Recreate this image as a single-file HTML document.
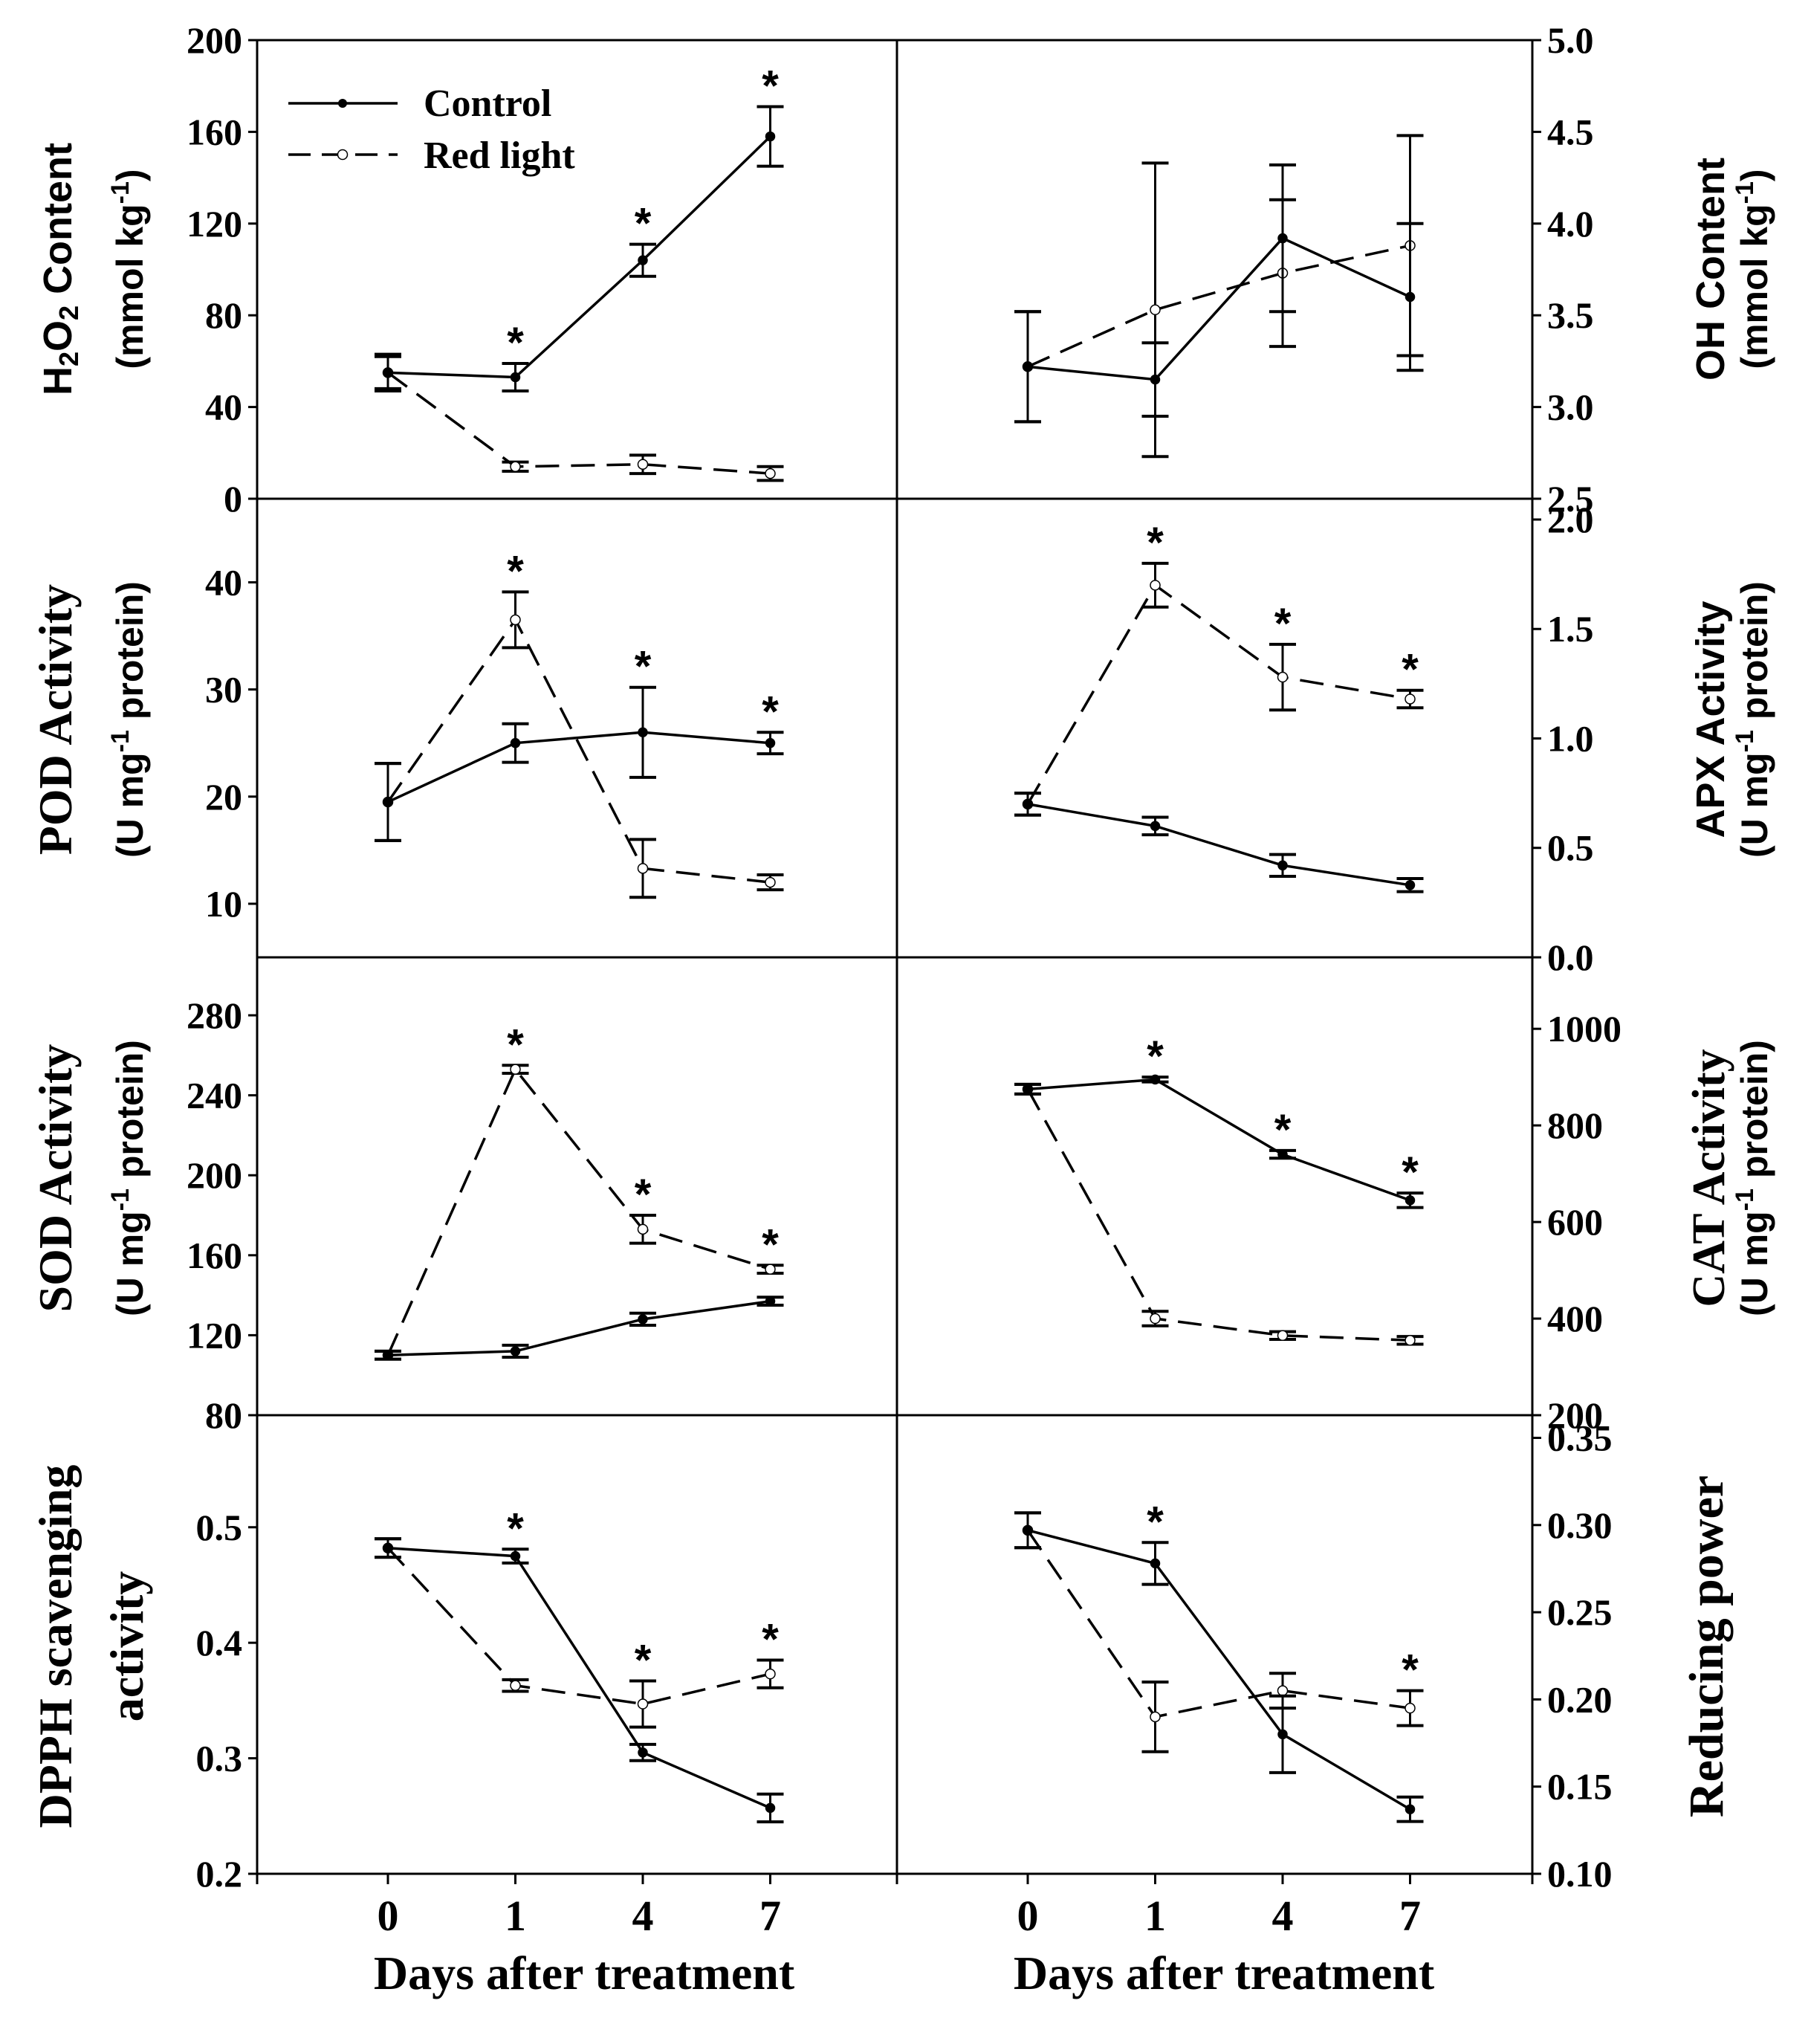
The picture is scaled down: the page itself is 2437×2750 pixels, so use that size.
<!DOCTYPE html>
<html><head><meta charset="utf-8"><style>
html,body{margin:0;padding:0;background:#fff;}
svg{display:block;}
</style></head><body>
<svg id="chart" width="2437" height="2750" viewBox="0 0 2437 2750" xmlns="http://www.w3.org/2000/svg"></svg>
<script>
// ---- data ----
const days = ["0","1","4","7"];
const h2o2Control = [55, 53, 104, 158];
const h2o2ControlErr = [7, 6, 7, 13];
const h2o2Red = [55, 14, 15, 11];
const h2o2RedErr = [8, 2, 4, 3];
const ohControl = [3.22, 3.15, 3.92, 3.6];
const ohControlErr = [0.3, 0.2, 0.4, 0.4];
const ohRed = [3.22, 3.53, 3.73, 3.88];
const ohRedErr = [0.3, 0.8, 0.4, 0.6];
const podControl = [19.5, 25, 26, 25];
const podControlErr = [3.6, 1.8, 4.2, 1];
const podRed = [19.5, 36.5, 13.3, 12];
const podRedErr = [3.6, 2.6, 2.7, 0.7];
const apxControl = [0.7, 0.6, 0.42, 0.33];
const apxControlErr = [0.05, 0.04, 0.05, 0.03];
const apxRed = [0.7, 1.7, 1.28, 1.18];
const apxRedErr = [0.05, 0.1, 0.15, 0.04];
const sodControl = [110, 112, 128, 137];
const sodControlErr = [2, 3, 3, 2];
const sodRed = [110, 253, 173, 153];
const sodRedErr = [2, 2, 7, 2];
const catControl = [875, 895, 740, 645];
const catControlErr = [10, 5, 8, 15];
const catRed = [875, 400, 365, 355];
const catRedErr = [10, 15, 8, 8];
const dpphControl = [0.482, 0.475, 0.305, 0.257];
const dpphControlErr = [0.008, 0.006, 0.007, 0.012];
const dpphRed = [0.482, 0.363, 0.347, 0.373];
const dpphRedErr = [0.008, 0.005, 0.02, 0.012];
const rpControl = [0.297, 0.278, 0.18, 0.137];
const rpControlErr = [0.01, 0.012, 0.022, 0.007];
const rpRed = [0.297, 0.19, 0.205, 0.195];
const rpRedErr = [0.01, 0.02, 0.01, 0.01];
const h2o2Ticks = [0,40,80,120,160,200];
const ohTicks = ["2.5","3.0","3.5","4.0","4.5","5.0"];
const podTicks = [10,20,30,40];
const apxTicks = ["0.0","0.5","1.0","1.5","2.0"];
const sodTicks = [80,120,160,200,240,280];
const catTicks = [200,400,600,800,1000];
const dpphTicks = ["0.2","0.3","0.4","0.5"];
const rpTicks = ["0.10","0.15","0.20","0.25","0.30","0.35"];

const NS="http://www.w3.org/2000/svg";
const svg=document.getElementById('chart');
function mk(tag,attrs,parent){const e=document.createElementNS(NS,tag);for(const k in attrs)e.setAttribute(k,attrs[k]);(parent||svg).appendChild(e);return e;}

const L=346, M=1207, R=2062;
const rows=[54,671,1288,1904,2521];
const serif='"Liberation Serif", serif', sans='"Liberation Sans", sans-serif';

function panel(opts){
  const {x0,x1,top,bot,min,max,ticks,side,ctrl,ctrlErr,red,redErr,stars,name}=opts;
  const g=mk('g',{});
  
  
  const xs=i=>x0+176+i*171.5;
  const ys=v=>bot-(v-min)/(max-min)*(bot-top);
  const ax=side==='left'?x0:x1;
  ticks.forEach(t=>{
    const y=ys(parseFloat(t));
    mk('line',{x1:ax,x2:side==='left'?ax-12:ax+12,y1:y,y2:y,stroke:'#000','stroke-width':3},g);
    const tx=mk('text',{x:side==='left'?ax-20:ax+20,y:y+17,'font-family':serif,'font-weight':'bold','font-size':50,'text-anchor':side==='left'?'end':'start'},g);
    tx.textContent=t;
    
    
  });
  function series(vals,errs,dashed,filled,sname){
    const sg=mk('g',{},g);
    
    
    const pts=vals.map((v,i)=>xs(i)+','+ys(v)).join(' ');
    mk('polyline',{points:pts,fill:'none',stroke:'#000','stroke-width':3.5,'stroke-dasharray':dashed?'32 16':'none'},sg);
    vals.forEach((v,i)=>{
      const x=xs(i),yh=ys(v+errs[i]),yl=ys(v-errs[i]);
      mk('line',{x1:x,x2:x,y1:yh,y2:yl,stroke:'#000','stroke-width':3},sg);
      mk('line',{x1:x-18,x2:x+18,y1:yh,y2:yh,stroke:'#000','stroke-width':4},sg);
      mk('line',{x1:x-18,x2:x+18,y1:yl,y2:yl,stroke:'#000','stroke-width':4},sg);
      const c=mk('circle',{cx:x,cy:ys(v),r:filled?6:6.5,fill:filled?'#000':'#fff',stroke:'#000','stroke-width':1.5},sg);
      
      
    });
  }
  series(red,redErr,true,false,'red-light');
  series(ctrl,ctrlErr,false,true,'control');
  stars.forEach(s=>{
    const arr=s[1]==='c'?ctrl:red, err=s[1]==='c'?ctrlErr:redErr;
    const t=mk('text',{x:xs(s[0]),y:ys(arr[s[0]]+err[s[0]])-8,'font-family':sans,'font-weight':'bold','font-size':58,'text-anchor':'middle'},g);
    t.textContent='*';
    
    
  });
}
const fr=mk('g',{});


mk('rect',{x:L,y:rows[0],width:R-L,height:rows[4]-rows[0],fill:'none',stroke:'#000','stroke-width':3},fr);
mk('line',{x1:M,x2:M,y1:rows[0],y2:rows[4],stroke:'#000','stroke-width':3},fr);
[1,2,3].forEach(i=>mk('line',{x1:L,x2:R,y1:rows[i],y2:rows[i],stroke:'#000','stroke-width':3},fr));
[L,M].forEach((x0,k)=>{
  [x0,x0+(k?855:861)].forEach(x=>mk('line',{x1:x,x2:x,y1:rows[4],y2:rows[4]+14,stroke:'#000','stroke-width':3}));
  days.forEach((d,i)=>{
    const x=x0+176+i*171.5;
    mk('line',{x1:x,x2:x,y1:rows[4],y2:rows[4]+14,stroke:'#000','stroke-width':3});
    const t=mk('text',{x:x,y:2597,'font-family':serif,'font-weight':'bold','font-size':58,'text-anchor':'middle'});
    t.textContent=d;
    
    
  });
  const t=mk('text',{x:x0+440,y:2676,'font-family':serif,'font-weight':'bold','font-size':64,'text-anchor':'middle'});
  t.textContent='Days after treatment';
  
  
});

panel({name:'h2o2',x0:L,x1:M,top:rows[0],bot:rows[1],min:0,max:200,ticks:h2o2Ticks,side:'left',ctrl:h2o2Control,ctrlErr:h2o2ControlErr,red:h2o2Red,redErr:h2o2RedErr,stars:[[1,'c'],[2,'c'],[3,'c']]});
panel({name:'oh',x0:M,x1:R,top:rows[0],bot:rows[1],min:2.5,max:5.0,ticks:ohTicks,side:'right',ctrl:ohControl,ctrlErr:ohControlErr,red:ohRed,redErr:ohRedErr,stars:[]});
panel({name:'pod',x0:L,x1:M,top:rows[1],bot:rows[2],min:5,max:47.8,ticks:podTicks,side:'left',ctrl:podControl,ctrlErr:podControlErr,red:podRed,redErr:podRedErr,stars:[[1,'r'],[2,'c'],[3,'c']]});
panel({name:'apx',x0:M,x1:R,top:rows[1],bot:rows[2],min:0,max:2.095,ticks:apxTicks,side:'right',ctrl:apxControl,ctrlErr:apxControlErr,red:apxRed,redErr:apxRedErr,stars:[[1,'r'],[2,'r'],[3,'r']]});
panel({name:'sod',x0:L,x1:M,top:rows[2],bot:rows[3],min:80,max:309,ticks:sodTicks,side:'left',ctrl:sodControl,ctrlErr:sodControlErr,red:sodRed,redErr:sodRedErr,stars:[[1,'r'],[2,'r'],[3,'r']]});
panel({name:'cat',x0:M,x1:R,top:rows[2],bot:rows[3],min:200,max:1148,ticks:catTicks,side:'right',ctrl:catControl,ctrlErr:catControlErr,red:catRed,redErr:catRedErr,stars:[[1,'c'],[2,'c'],[3,'c']]});
panel({name:'dpph',x0:L,x1:M,top:rows[3],bot:rows[4],min:0.2,max:0.597,ticks:dpphTicks,side:'left',ctrl:dpphControl,ctrlErr:dpphControlErr,red:dpphRed,redErr:dpphRedErr,stars:[[1,'c'],[2,'r'],[3,'r']]});
panel({name:'reducing-power',x0:M,x1:R,top:rows[3],bot:rows[4],min:0.1,max:0.363,ticks:rpTicks,side:'right',ctrl:rpControl,ctrlErr:rpControlErr,red:rpRed,redErr:rpRedErr,stars:[[1,'c'],[3,'r']]});

function title(x,y,size,parts,name){
  const t=mk('text',{transform:`translate(${x},${y}) rotate(-90)`,'text-anchor':'middle','font-weight':'bold','font-size':size});
  
  
  parts.forEach(p=>{const s=mk('tspan',{'font-family':p[1]==='s'?sans:serif},t);if(p[2])s.setAttribute('baseline-shift',p[2]);if(p[3])s.setAttribute('font-size',p[3]);s.textContent=p[0];});
}
const c1=[362,968,1585,2215];
title(96,c1[0],54,[['H','s'],['2','s','-25%',36],['O','s'],['2','s','-25%',36],[' Content','s']],'h2o2-axis-title');
title(192,c1[0],50,[['(mmol kg','s'],['-1','s','super',34],[')','s']],'h2o2-axis-unit');
title(96,c1[1],64,[['POD Activity','t']],'pod-axis-title');
title(192,c1[1],50,[['(U mg','s'],['-1','s','super',34],[' protein)','s']],'pod-axis-unit');
title(96,c1[2],64,[['SOD Activity','t']],'sod-axis-title');
title(192,c1[2],50,[['(U mg','s'],['-1','s','super',34],[' protein)','s']],'sod-axis-unit');
title(96,c1[3],64,[['DPPH scavenging','t']],'dpph-axis-title');
title(192,c1[3],64,[['activity','t']],'dpph-axis-title-line2');
title(2320,c1[0],54,[['OH Content','s']],'oh-axis-title');
title(2378,c1[0],50,[['(mmol kg','s'],['-1','s','super',34],[')','s']],'oh-axis-unit');
title(2320,c1[1],54,[['APX Activity','s']],'apx-axis-title');
title(2378,c1[1],50,[['(U mg','s'],['-1','s','super',34],[' protein)','s']],'apx-axis-unit');
title(2320,c1[2],62,[['CAT Activity','t']],'cat-axis-title');
title(2378,c1[2],50,[['(U mg','s'],['-1','s','super',34],[' protein)','s']],'cat-axis-unit');
title(2318,c1[3],66,[['Reducing power','t']],'reducing-power-axis-title');

const lg=mk('g',{});


mk('line',{x1:388,x2:535,y1:139,y2:139,stroke:'#000','stroke-width':3.5},lg);
mk('circle',{cx:461,cy:139,r:6,fill:'#000'},lg);
mk('line',{x1:388,x2:535,y1:208,y2:208,stroke:'#000','stroke-width':3.5,'stroke-dasharray':'30 15'},lg);
mk('circle',{cx:461,cy:208,r:6.5,fill:'#fff',stroke:'#000','stroke-width':1.5},lg);
const lt1=mk('text',{x:570,y:156,'font-family':serif,'font-weight':'bold','font-size':52},lg);lt1.textContent='Control';


const lt2=mk('text',{x:570,y:226,'font-family':serif,'font-weight':'bold','font-size':52},lg);lt2.textContent='Red light';


</script>
</body></html>
